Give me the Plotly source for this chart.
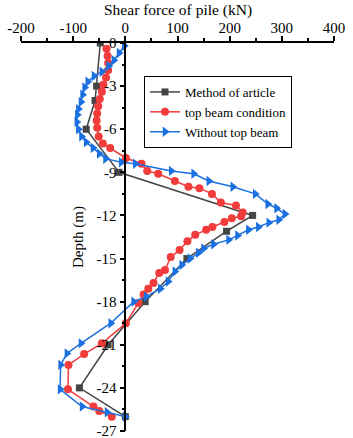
import plotly.graph_objects as go

# Method of article
art_x = [-48, -55, -58, -75, -12, 244, 194, 118, 38, -33, -88, 0]
art_y = [0, -3, -4, -6, -9, -12, -13.1, -15, -18, -21, -24, -26]

# top beam condition
beam_y = [-0.4, -0.9, -1.4, -1.9, -2.4, -2.9, -3.4, -3.9, -4.4, -4.9, -5.4, -5.9, -6.5, -7.0, -7.3,
          -8.0, -8.4, -8.9, -9.1, -9.6, -10.0, -10.1, -10.5, -11.1, -11.3, -11.8, -12.05, -12.2,
          -12.45, -12.8, -13.0, -13.35, -13.8, -14.4, -14.9, -15.8, -16.0, -16.7, -17.1, -17.5,
          -18.1, -19.5, -20.9, -21.65, -22.4, -24.1, -25.3, -25.6, -26.0]
beam_x = [-36, -34, -33, -33, -37, -42, -45, -49, -52, -54, -55, -54, -51, -43, -29,
          1, 31, 42, 63, 95, 121, 142, 166, 183, 212, 225, 222, 204,
          190, 167, 155, 134, 119, 104, 87, 76, 65, 54, 44, 35,
          25, 1, -45, -79, -109, -110, -61, -50, -26]

# Without top beam
nob_y = [-0.2, -0.7, -1.2, -1.6, -2.0, -2.3, -2.7, -3.1, -3.6, -4.1, -4.6, -5.0, -5.5, -6.0,
         -6.5, -6.9, -7.3, -7.7, -8.05, -8.3, -8.4, -8.9, -9.1, -9.6, -10.0, -10.5, -11.2,
         -11.5, -11.9, -12.3, -12.5, -12.8, -13.0, -13.4, -13.7, -14.0, -14.3, -14.6, -15.0,
         -15.45, -15.9, -16.6, -17.1, -17.65, -18.0, -19.5, -20.9, -21.6, -22.4, -24.1, -25.3,
         -25.7, -26.0]
nob_x = [-2, -12, -22, -32, -45, -60, -72, -78, -82, -85, -90, -92, -93, -90,
         -84, -75, -62, -50, -38, -8, 19, 88, 131, 160, 206, 249, 273,
         290, 306, 294, 275, 255, 236, 215, 198, 169, 150, 140, 124,
         108, 95, 82, 67, 40, 16, -28, -85, -112, -124, -125, -83,
         -35, 0]

x_ticks = [-200, -100, 0, 100, 200, 300, 400]
y_ticks = [0, -3, -6, -9, -12, -15, -18, -21, -24, -27]

FONT = "Liberation Serif, Times New Roman, serif"

fig = go.Figure()
fig.add_trace(go.Scatter(x=art_x, y=art_y, mode="lines+markers", name="Method of article",
                         line=dict(color="#454545", width=1.5),
                         marker=dict(symbol="square", size=7, color="#454545")))
fig.add_trace(go.Scatter(x=beam_x, y=beam_y, mode="lines+markers", name="top beam condition",
                         line=dict(color="#f23b3b", width=1.5),
                         marker=dict(symbol="circle", size=8, color="#f23b3b")))
fig.add_trace(go.Scatter(x=nob_x, y=nob_y, mode="lines+markers", name="Without top beam",
                         line=dict(color="#1a70e0", width=1.5),
                         marker=dict(symbol="triangle-right", size=9, color="#1a70e0")))

fig.update_layout(
    width=353, height=438,
    margin=dict(l=21, r=19, t=43, b=7),
    paper_bgcolor="white", plot_bgcolor="white",
    font=dict(family=FONT, size=15, color="black"),
    showlegend=True,
    legend=dict(x=0.393, y=0.915, xanchor="left", yanchor="top",
                bgcolor="white", bordercolor="black", borderwidth=1,
                font=dict(family=FONT, size=13), tracegroupgap=0,
                itemwidth=30),
    xaxis=dict(side="top", range=[-200, 400], tickvals=x_ticks,
               ticktext=[str(v) for v in x_ticks], ticklabeloverflow="allow",
               ticklabelstandoff=-3,
               showline=True, linecolor="black", linewidth=1.5, mirror=False,
               ticks="outside", ticklen=5, tickwidth=1.5, tickcolor="black",
               minor=dict(ticks="outside", ticklen=3, tickwidth=1.5, tickcolor="black", dtick=50),
               showgrid=False, zeroline=False,
               automargin=False, tickfont=dict(family=FONT, size=15)),
    yaxis=dict(range=[-27, 0], tickvals=y_ticks, ticktext=[str(v) for v in y_ticks],
               anchor="free", position=1/3, ticklabeloverflow="allow",
               showline=True, linecolor="black", linewidth=1.5,
               ticks="outside", ticklen=5, tickwidth=1.5, tickcolor="black",
               minor=dict(ticks="outside", ticklen=3, tickwidth=1.5, tickcolor="black", dtick=1.5),
               showgrid=False, zeroline=False,
               title=dict(text="Depth (m)", standoff=8, font=dict(family=FONT, size=15)),
               automargin=False, tickfont=dict(family=FONT, size=15)),
    annotations=[dict(text="Shear force of pile (kN)", xref="paper", yref="paper",
                      x=0.503, y=1.085, xanchor="center", yanchor="middle",
                      showarrow=False, font=dict(family=FONT, size=15.5))],
)

fig.write_html("out.html", config={"displayModeBar": False},
               post_script="document.body.style.margin='0';")
